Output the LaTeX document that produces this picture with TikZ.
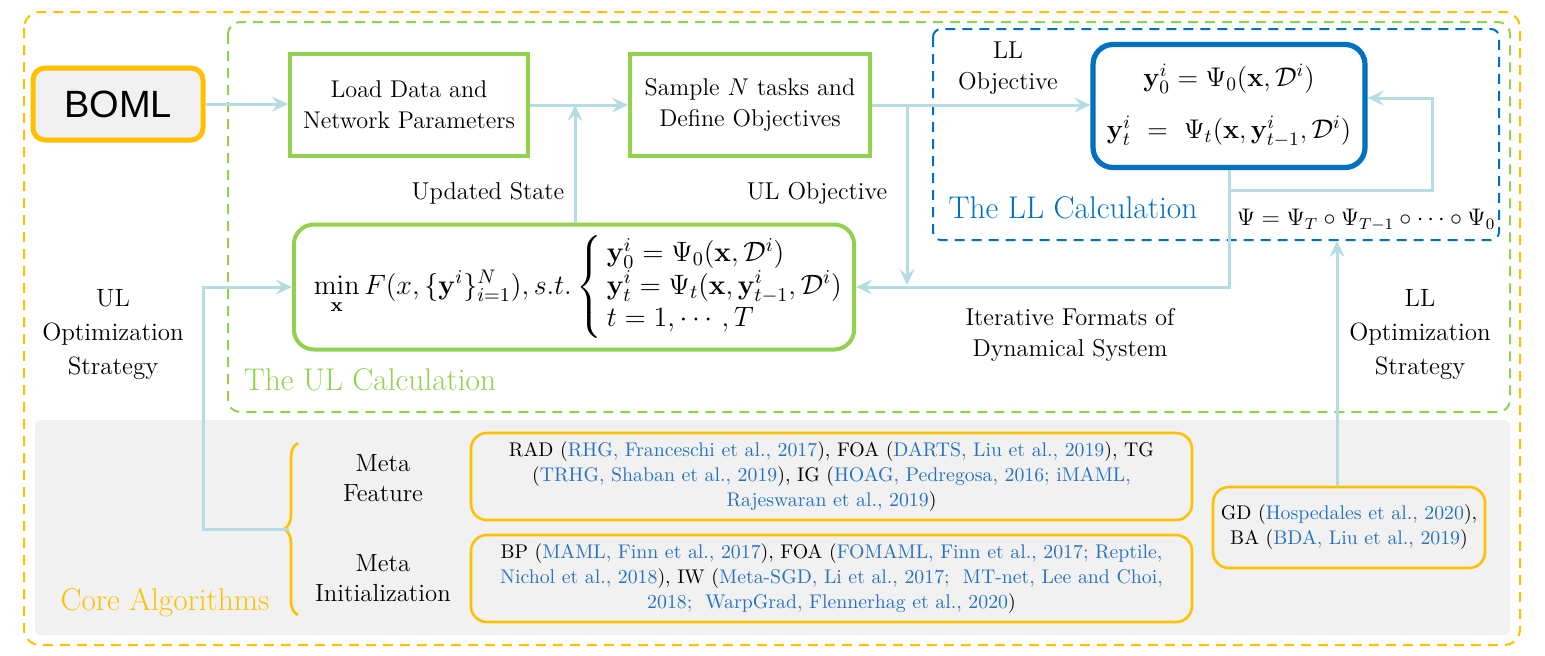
\RequirePackage{fix-cm}
\documentclass[tikz,border=0pt]{standalone}
\usepackage{amsmath}
\usepackage[no-math]{fontspec}
\newfontfamily\bomlfont{Liberation Sans}
\newfontfamily\tmsfont{Latin Modern Roman}
\usetikzlibrary{arrows.meta,decorations.pathreplacing}
\definecolor{orng}{HTML}{FFC000}
\definecolor{grn}{HTML}{92D050}
\definecolor{blu}{HTML}{0070C0}
\definecolor{arrc}{HTML}{B4DCE2}
\definecolor{citeblue}{HTML}{2672C0}
\definecolor{bggray}{HTML}{F1F1F1}
\newcommand{\cbl}[1]{\textcolor{citeblue}{#1}}
\tikzset{
  lbl/.style={font=\tmsfont\fontsize{12.2}{15.5}\selectfont, align=center, inner sep=0pt},
  optlbl/.style={font=\tmsfont\fontsize{12.5}{17}\selectfont, align=center, inner sep=0pt},
  metalbl/.style={font=\tmsfont\fontsize{12.4}{15}\selectfont, align=center, inner sep=0pt},
  gbox/.style={draw=grn, line width=2pt, align=center, font=\tmsfont\fontsize{12.1}{15.5}\selectfont, inner sep=0pt},
  conn/.style={draw=arrc, line width=1.5pt},
  arr/.style={conn, -{Stealth[length=8pt,width=7.5pt,inset=3pt]}},
  citebox/.style={draw=orng, line width=1.3pt, rounded corners=8pt, align=center, inner sep=0pt, font=\tmsfont\fontsize{9.9}{12.5}\selectfont},
  dashbox/.style={line width=1pt, dash pattern=on 5pt off 3.5pt},
  title/.style={font=\tmsfont\fontsize{15.7}{19}\selectfont, inner sep=0pt}
}
\begin{document}
\begin{tikzpicture}[x=0.5pt,y=-0.5pt]
\useasboundingbox (0,0) rectangle (1545,655);
% background regions
\fill[bggray, rounded corners=3pt] (35,420) rectangle (1510,635);
\draw[dashbox, draw=orng, rounded corners=8pt] (24,12) rectangle (1520,645);
\draw[dashbox, draw=grn, rounded corners=6pt] (228,22) rectangle (1510,412);
\draw[dashbox, draw=blu, rounded corners=4pt] (933,29) rectangle (1499,240);

% main nodes
\node[draw=orng, fill=bggray, line width=2.5pt, rounded corners=6pt, minimum width=85pt, minimum height=36pt, font=\bomlfont\fontsize{19}{22}\selectfont] (boml) at (118,104) {BOML};
\node[gbox, minimum width=119pt, minimum height=51pt] (load) at (409,105) {Load Data and\\Network Parameters};
\node[gbox, minimum width=120pt, minimum height=51pt] (sample) at (750,105) {Sample $N$ tasks and\\Define Objectives};
\node[draw=blu, line width=2.6pt, rounded corners=10pt, minimum width=136pt, minimum height=61.5pt, align=center, inner sep=0pt, font=\fontsize{13.5}{16}\selectfont] (ll) at (1229,106)
  {$\mathbf{y}_0^i=\Psi_0(\mathbf{x},\mathcal{D}^i)$\\[10pt]$\mathbf{y}_t^i\ =\ \Psi_t(\mathbf{x},\mathbf{y}_{t-1}^i,\mathcal{D}^i)$};
\node[draw=grn, line width=2pt, rounded corners=10pt, minimum width=274pt, minimum height=62.5pt, inner sep=0pt, font=\fontsize{14}{16}\selectfont] (ul) at (574,287)
  {\kern10pt$\min\limits_{\mathbf{x}} F(x,\{\mathbf{y}^i\}_{i=1}^N), s.t. \left\{\begin{array}{@{\,}l}\mathbf{y}_0^i=\Psi_0(\mathbf{x},\mathcal{D}^i)\\ \mathbf{y}_t^i=\Psi_t(\mathbf{x},\mathbf{y}_{t-1}^i,\mathcal{D}^i)\\ t=1,\cdots,T\end{array}\right.$};

% labels
\node[lbl] (lllab) at (1008,68) {LL\\Objective};
\node[lbl] (updlab) at (488,193) {Updated State};
\node[lbl] (ullab) at (817,193) {UL Objective};
\node[lbl] (iterlab) at (1070,335) {Iterative Formats of\\Dynamical System};
\node[optlbl] (ulopt) at (113,335) {UL\\Optimization\\Strategy};
\node[optlbl] (llopt) at (1420,335) {LL\\Optimization\\Strategy};
\node[lbl, font=\fontsize{12}{14}\selectfont] (psi) at (1366,220) {$\Psi=\Psi_T\circ\Psi_{T-1}\circ\cdots\circ\Psi_0$};
\node[title, text=blu] (lltitle) at (1073,208) {The LL Calculation};
\node[title, text=grn] (ultitle) at (370,380) {The UL Calculation};
\node[title, text=orng] (coretitle) at (165,603) {Core Algorithms};

% core algorithms
\node[metalbl] (mfeat) at (383,478) {Meta\\Feature};
\node[metalbl] (minit) at (383,578) {Meta\\Initialization};
\node[citebox, minimum width=360.5pt, minimum height=43.5pt] (c1) at (831.5,476.5)
  {RAD (\cbl{RHG, Franceschi et al., 2017}), FOA (\cbl{DARTS, Liu et al., 2019}), TG\\
   (\cbl{TRHG, Shaban et al., 2019}), IG (\cbl{HOAG, Pedregosa, 2016; iMAML,}\\
   \cbl{Rajeswaran et al., 2019})};
\node[citebox, minimum width=360.5pt, minimum height=43.5pt] (c2) at (831.5,578.5)
  {BP (\cbl{MAML, Finn et al., 2017}), FOA (\cbl{FOMAML, Finn et al., 2017; Reptile,}\\
   \cbl{Nichol et al., 2018}), IW (\cbl{Meta-SGD, Li et al., 2017;\ \ MT-net, Lee and Choi,}\\
   \cbl{2018;\ \ WarpGrad, Flennerhag et al., 2020})};
\node[citebox, minimum width=136pt, minimum height=40.5pt] (gd) at (1349,527.5)
  {GD (\cbl{Hospedales et al., 2020}),\\BA (\cbl{BDA, Liu et al., 2019})};
\draw[orng, line width=1.3pt, decorate, decoration={brace, amplitude=7pt}] (298,615) -- (298,443);
\coordinate (bracetip) at (289,529);

% connectors
\draw[arr] (ul.north -| 575,0) -- (575,105);
\draw[arr] (boml.east) -- (load.west |- boml.east);
\draw[arr] (load.east) -- (sample.west);
\draw[arr] (sample.east) -- (ll.west |- sample.east);
\coordinate (split) at (907,105);
\draw[arr] (split) -- (907,285);
\coordinate (llbot) at (1229,190);
\draw[arr] (ll.south) -- (llbot) -- (1229,287) -- (ul.east);
\draw[arr] (llbot) -- (1432,190) -- (1432,98) -- (ll.east |- 0,98);
\draw[arr] (gd.north -| 1337,0) -- (1337,241);
\draw[arr] (bracetip) -- (203,529) -- (203,287) -- (ul.west);
\end{tikzpicture}
\end{document}
